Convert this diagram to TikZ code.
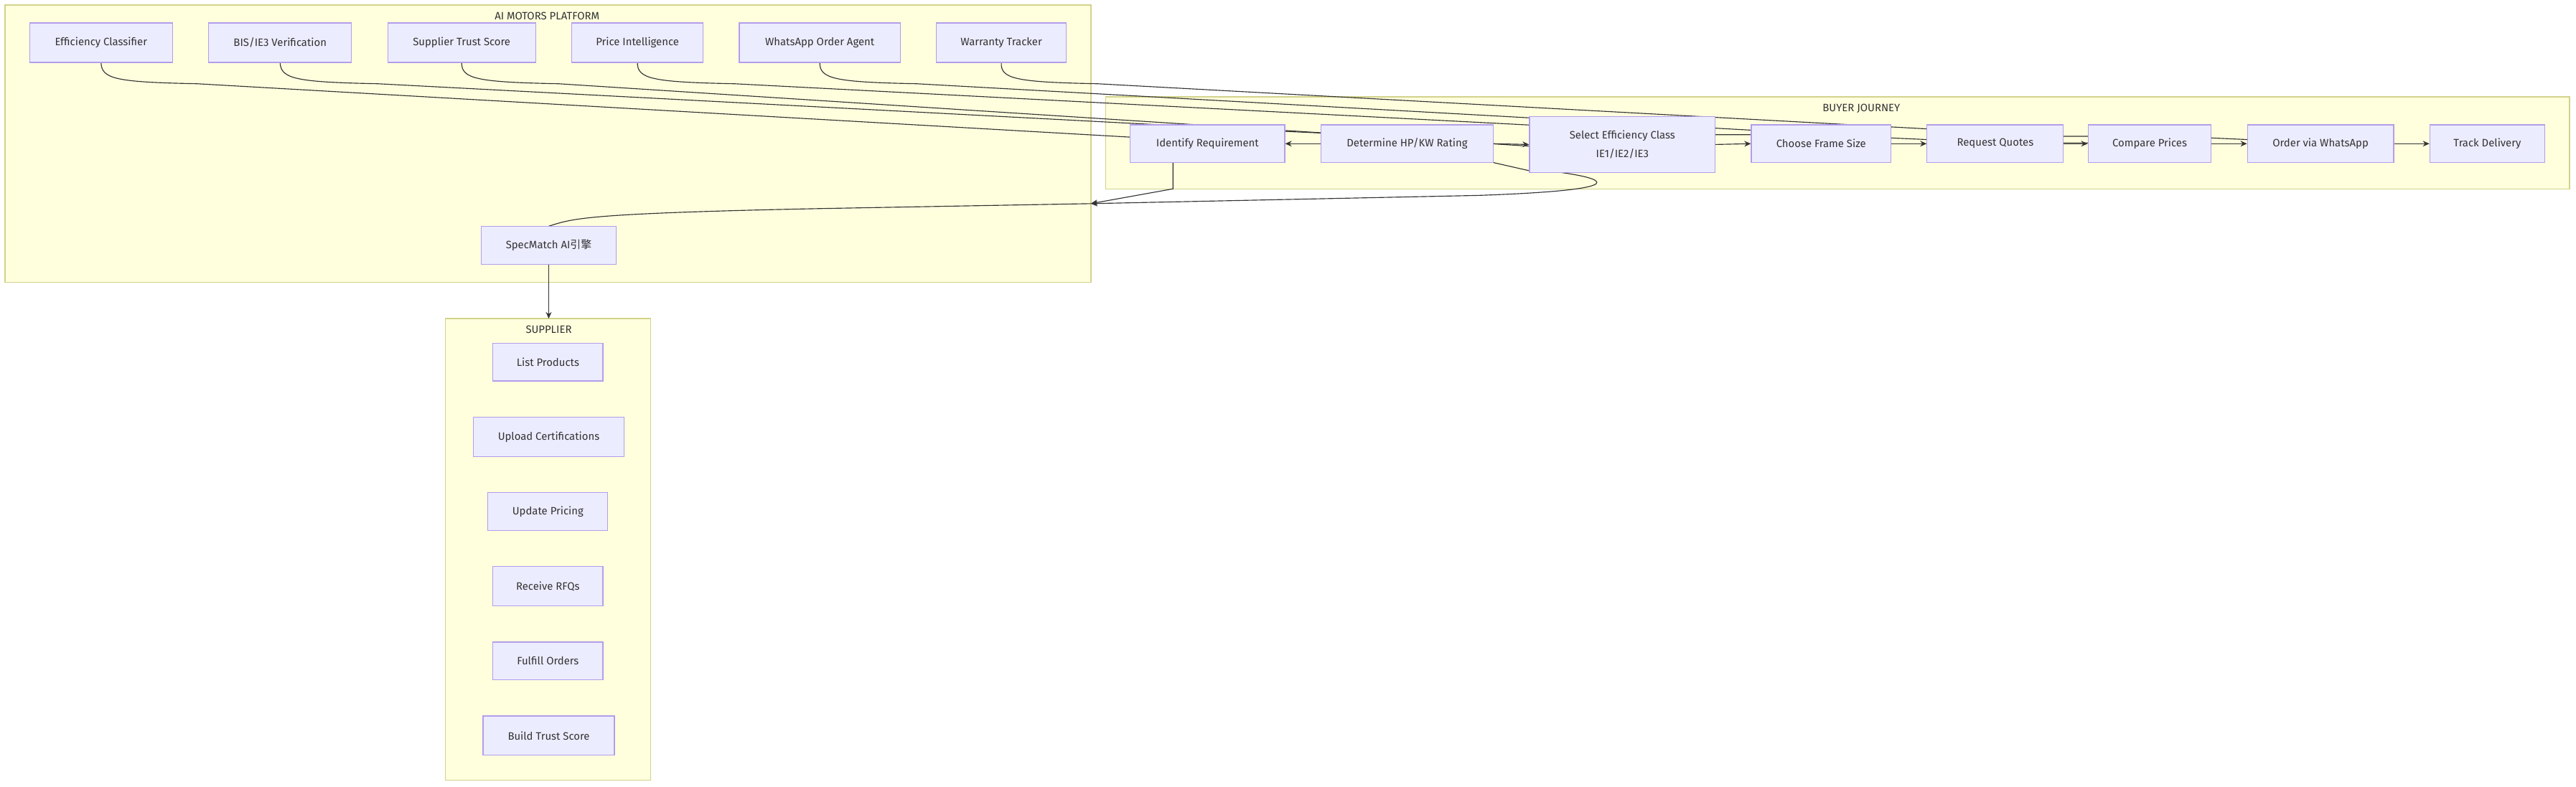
\documentclass[tikz,border=0pt]{standalone}
\usepackage{fontspec}
\setmainfont{Fira Sans}
\newfontfamily\cjk{Noto Sans CJK SC}
\usetikzlibrary{arrows.meta,backgrounds}
\definecolor{nfill}{HTML}{ECECFF}
\definecolor{nline}{HTML}{B39DEB}
\definecolor{cfill}{HTML}{FFFFDE}
\definecolor{cline}{HTML}{D2D28A}
\definecolor{ink}{HTML}{333333}
\tikzset{
 box/.style={draw=nline,fill=nfill,line width=0.5pt,font=\fontsize{6.5}{8}\selectfont,text=ink,align=center,inner sep=0pt},
 clus/.style={draw=cline,fill=cfill,line width=0.6pt},
 ctitle/.style={font=\fontsize{6.5}{8}\selectfont,text=ink,anchor=north},
 link/.style={draw=ink,line width=0.5pt},
 arr/.style={link,-{Stealth[length=4pt,width=3.5pt]}}
}
\newcommand{\bx}[6]{\node[box,minimum width=#4-#2,minimum height=#5-#3] (#1) at ({(#2+#4)/2},{(#3+#5)/2}) {#6};}
\begin{document}
\begin{tikzpicture}[x=1pt,y=-1pt]
\useasboundingbox (0,0) rectangle (1568,479);
\bx{ec}{18}{14}{105}{38}{Efficiency Classifier}
\bx{bis}{127}{14}{214}{38}{BIS/IE3 Verification}
\bx{sts}{236}{14}{326}{38}{Supplier Trust Score}
\bx{pi}{348}{14}{428}{38}{Price Intelligence}
\bx{wa}{450}{14}{548}{38}{WhatsApp Order Agent}
\bx{wt}{570}{14}{649}{38}{Warranty Tracker}
\bx{sm}{293}{138}{375}{161}{SpecMatch AI{\cjk 引擎}}
\bx{id}{688}{76}{782}{99}{Identify Requirement}
\bx{dh}{804}{76}{909}{99}{Determine HP/KW Rating}
\bx{se}{931}{71}{1044}{105}{Select Efficiency Class\\[3pt]IE1/IE2/IE3}
\bx{cf}{1066}{76}{1151}{99}{Choose Frame Size}
\bx{rq}{1173}{76}{1256}{99}{Request Quotes}
\bx{cp}{1271}{76}{1346}{99}{Compare Prices}
\bx{ow}{1368}{76}{1457}{99}{Order via WhatsApp}
\bx{td}{1479}{76}{1549}{99}{Track Delivery}
\bx{lp}{300}{209}{367}{232}{List Products}
\bx{uc}{288}{254}{380}{278}{Upload Certifications}
\bx{up}{297}{300}{370}{323}{Update Pricing}
\bx{rf}{300}{345}{367}{369}{Receive RFQs}
\bx{fo}{300}{391}{367}{414}{Fulfill Orders}
\bx{bt}{294}{436}{374}{460}{Build Trust Score}
\coordinate (sb) at (664,124);
\begin{scope}[on background layer]
\fill[white] (0,0) rectangle (1568,479);
\draw[clus] (3,3) rectangle (664,172);
\node[ctitle] at (333,4) {AI MOTORS PLATFORM};
\draw[clus] (673,59) rectangle (1564,115);
\node[ctitle] at (1133,60) {BUYER JOURNEY};
\draw[clus] (271,194) rectangle (396,475);
\node[ctitle] at (334,195) {SUPPLIER};
\draw[link] (ec.south) .. controls (62,48) and (70,50) .. (120,51) -- ([yshift=4pt]id.west);
\draw[link] (bis.south) .. controls (171,48) and (180,50) .. (230,51) -- (782,80) -- (804,81);
\draw[link] (sts.south) .. controls (281,48) and (290,50) .. (340,51) -- ([yshift=-1pt]se.west);
\draw[link] (pi.south) .. controls (388,48) and (397,50) .. (447,51) -- (1044,82) -- (1066,82);
\draw[link] (wa.south) .. controls (499,48) and (508,50) .. (558,51) -- (1151,84) -- (1173,85) -- (1256,87) -- (1271,87);
\draw[link] (wt.south) .. controls (609,48) and (618,50) .. (668,51) -- (1256,83) -- (1271,83) -- (1346,84) -- (1368,85);
\draw[arr] (714,99) -- (714,115) -- (sb);
\draw[arr] (909,99) -- (931,104) -- (950,105) .. controls (985,110) and (985,116) .. (900,119) -- (sb);
\draw[link] (sm.north) .. controls (349,133) and (355,130) .. (500,127) -- (sb);
\end{scope}
\draw[arr] (dh.west) -- (id.east);
\draw[arr] (dh.east) -- (se.west);
\draw[arr] (se.east) -- (cf.west);
\draw[arr] (cf.east) -- (rq.west);
\draw[arr] (rq.east) -- (cp.west);
\draw[arr] (cp.east) -- (ow.west);
\draw[arr] (ow.east) -- (td.west);
\draw[arr] (sm.south) -- (334,194);
\end{tikzpicture}
\end{document}
